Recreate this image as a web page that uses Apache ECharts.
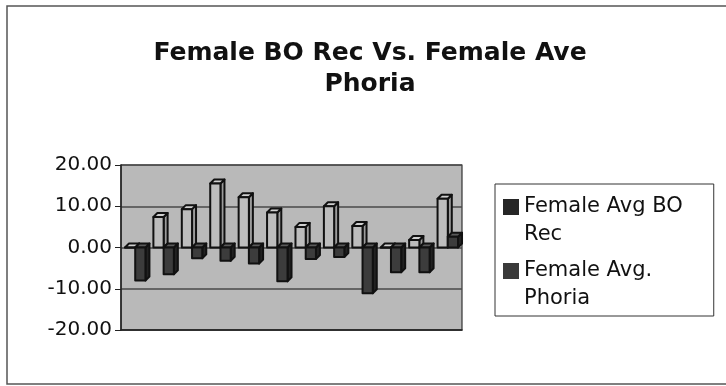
<!DOCTYPE html>
<html>
<head>
<meta charset="utf-8">
<style>
  html, body { margin: 0; padding: 0; background: #ffffff; }
  #chart { width: 726px; height: 386px; }
</style>
<script src="https://cdn.jsdelivr.net/npm/echarts@6/dist/echarts.min.js"></script>
</head>
<body>
<div id="chart"></div>
<script>
// Category slots along the x axis (unlabelled)
const categories = ['1', '2', '3', '4', '5', '6', '7', '8', '9', '10', '11', '12'];
// Female Avg BO Rec per category
const boRec = [0.0, 7.4, 9.3, 15.5, 12.2, 8.5, 5.0, 10.0, 5.2, 0.0, 1.8, 11.8];
// Female Avg. Phoria per category
const phoria = [-8.0, -6.5, -2.6, -3.2, -3.9, -8.2, -2.8, -2.3, -11.1, -6.0, -6.0, 2.6];
// Value axis ticks
const yTicks = [-20, -10, 0, 10, 20];

const seriesNames = ['Female Avg BO Rec', 'Female Avg. Phoria'];
const legendLabels = {
  'Female Avg BO Rec': 'Female Avg BO\nRec',
  'Female Avg. Phoria': 'Female Avg.\nPhoria'
};

const FONT = 'DejaVu Sans';
const DEPTH = 4;
// Legend swatch: a square on the first text line, with an empty point stretching the box
const SWATCH = 'path://M0,0 L16,0 L16,16 L0,16 Z M0,44 L0,44';

// Column drawn as a small box: front face, top face and right side face
function makeColumn(slot, faces) {
  return function (params, api) {
    const idx = api.value(0);
    const val = api.value(1);
    const band = api.size([1, 0])[0];
    const w = band * 0.36;
    const base = api.coord([idx, 0]);
    const tip = api.coord([idx, val]);
    const x0 = base[0] - w + slot * w;
    const yTop = Math.min(base[1], tip[1]);
    const yBot = Math.max(base[1], tip[1]);
    const stroke = { stroke: '#111', lineWidth: 2, lineJoin: 'round' };
    return {
      type: 'group',
      children: [
        {
          type: 'polygon',
          shape: { points: [[x0 + w, yTop], [x0 + w + DEPTH, yTop - DEPTH], [x0 + w + DEPTH, yBot - DEPTH], [x0 + w, yBot]] },
          style: Object.assign({ fill: faces.side }, stroke)
        },
        {
          type: 'polygon',
          shape: { points: [[x0, yTop], [x0 + DEPTH, yTop - DEPTH], [x0 + w + DEPTH, yTop - DEPTH], [x0 + w, yTop]] },
          style: Object.assign({ fill: faces.top }, stroke)
        },
        {
          type: 'rect',
          shape: { x: x0, y: yTop, width: w, height: yBot - yTop },
          style: Object.assign({ fill: faces.front }, stroke)
        }
      ]
    };
  };
}

const chart = echarts.init(document.getElementById('chart'), null, { renderer: 'canvas' });

chart.setOption({
  backgroundColor: '#ffffff',
  animation: false,
  title: {
    text: 'Female BO Rec Vs. Female Ave\nPhoria',
    left: 370,
    textAlign: 'center',
    top: 38,
    padding: 0,
    textStyle: {
      fontFamily: FONT,
      fontWeight: 'bold',
      fontSize: 25,
      lineHeight: 31,
      color: '#111'
    }
  },
  legend: {
    orient: 'vertical',
    left: 495,
    top: 184,
    padding: [9, 31, 3, 8],
    itemGap: 8,
    itemWidth: 16,
    itemHeight: 44,
    backgroundColor: '#ffffff',
    borderColor: '#333',
    borderWidth: 1,
    selectedMode: false,
    formatter: function (name) { return legendLabels[name]; },
    textStyle: { fontFamily: FONT, fontSize: 21, lineHeight: 28, color: '#111' },
    data: [
      { name: seriesNames[0], icon: SWATCH, itemStyle: { color: '#262626' } },
      { name: seriesNames[1], icon: SWATCH, itemStyle: { color: '#3a3a3a' } }
    ]
  },
  graphic: [
    {
      type: 'rect',
      shape: { x: 7, y: 6, width: 740, height: 378 },
      style: { fill: 'none', stroke: '#555', lineWidth: 1.5 },
      silent: true
    }
  ],
  grid: {
    left: 121,
    right: 264,
    top: 165,
    bottom: 56,
    show: true,
    backgroundColor: '#b9b9b9',
    borderColor: '#333',
    borderWidth: 1.2
  },
  xAxis: {
    type: 'category',
    data: categories,
    axisLabel: { show: false },
    axisTick: { show: false },
    axisLine: { show: true, onZero: false, lineStyle: { color: '#222', width: 1.5 } },
    splitLine: { show: false }
  },
  yAxis: {
    type: 'value',
    min: yTicks[0],
    max: yTicks[yTicks.length - 1],
    interval: 10,
    axisLine: { show: true, lineStyle: { color: '#222', width: 1.5 } },
    axisTick: { show: true, length: 6, lineStyle: { color: '#222' } },
    axisLabel: {
      margin: 9,
      padding: [6, 0, 0, 0],
      fontFamily: FONT,
      fontSize: 20,
      color: '#111',
      formatter: function (v) { return v.toFixed(2); }
    },
    splitLine: { show: true, lineStyle: { color: '#4a4a4a', width: 1.5 } }
  },
  series: [
    {
      name: seriesNames[0],
      type: 'custom',
      renderItem: makeColumn(0, { front: '#bdbdbd', top: '#d0d0d0', side: '#9c9c9c' }),
      data: boRec.map(function (v, i) { return [i, v]; }),
      encode: { x: 0, y: 1 },
      z: 3
    },
    {
      name: seriesNames[1],
      type: 'custom',
      renderItem: makeColumn(1, { front: '#3c3c3c', top: '#5a5a5a', side: '#222222' }),
      data: phoria.map(function (v, i) { return [i, v]; }),
      encode: { x: 0, y: 1 },
      z: 3
    }
  ]
});
</script>
</body>
</html>
